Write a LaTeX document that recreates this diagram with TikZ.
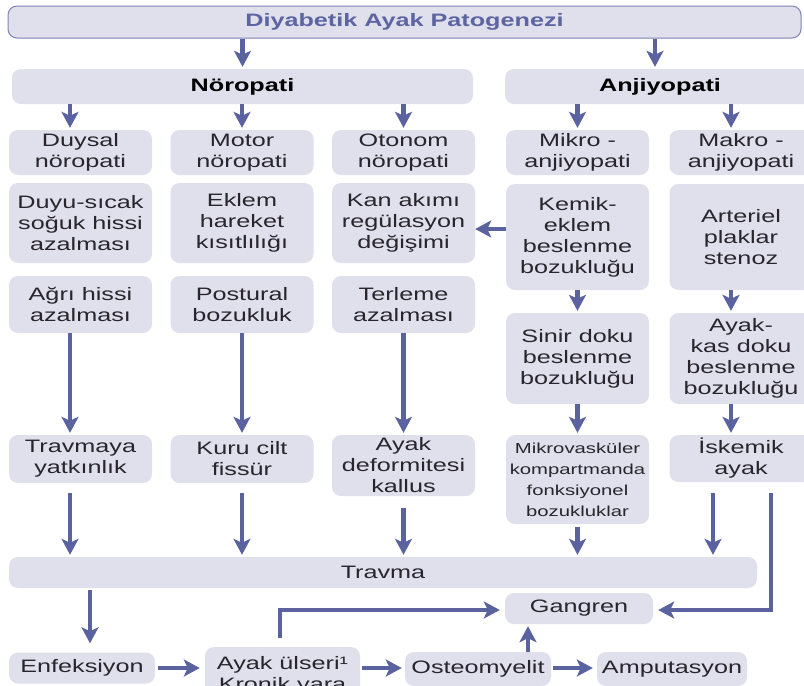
\documentclass[tikz,border=0pt]{standalone}
\usepackage{fontspec}
\setmainfont{Liberation Sans}[FakeStretch=1.4]
\usetikzlibrary{arrows.meta, calc, positioning}
\definecolor{boxfill}{RGB}{224,223,236}
\definecolor{arrowc}{RGB}{90,98,160}
\definecolor{titlec}{RGB}{92,100,162}
\definecolor{textc}{RGB}{40,38,44}

\begin{document}
\begin{tikzpicture}[x=1pt, y=-1pt,
  box/.style={fill=boxfill, rounded corners=9pt, inner sep=0pt, align=center,
    text=textc, font=\fontsize{18}{21}\selectfont},
  colbox/.style={box, minimum width=143pt},
  arr/.style={draw=arrowc, line width=4.5pt,
    -{Stealth[length=16pt,width=17pt,inset=4pt]}},
  gap/.style={shorten >=2pt}]
\useasboundingbox (0,0) rectangle (804,686);

%top
\node[box, draw=titlec!80, line width=1pt, minimum width=793pt, minimum height=32pt,
  text=titlec, font=\fontsize{18}{21}\selectfont\bfseries] (title) at (404.5,22) {Diyabetik Ayak Patogenezi};
\node[box, minimum width=461pt, minimum height=35pt, text=black,
  font=\fontsize{18}{21}\selectfont\bfseries] (noro) at (242.5,86.5) {Nöropati};
\node[box, minimum width=310pt, minimum height=35pt, text=black,
  font=\fontsize{18}{21}\selectfont\bfseries] (anji) at (660,86.5) {Anjiyopati};

%first row
\node[colbox, minimum height=45pt] (duysal) at (80.5,152.5) {Duysal\\nöropati};
\node[colbox, minimum height=45pt] (motor) at (242,152.5) {Motor\\nöropati};
\node[colbox, minimum height=45pt] (otonom) at (403.5,152.5) {Otonom\\nöropati};
\node[colbox, minimum height=45pt] (mikro) at (577.5,152.5) {Mikro -\\anjiyopati};
\node[colbox, minimum height=45pt] (makro) at (741,152.5) {Makro -\\anjiyopati};

%second row
\node[colbox, minimum height=80pt] (duyu) at (80.5,223) {Duyu-sıcak\\soğuk hissi\\azalması};
\node[colbox, minimum height=80pt] (eklem) at (242,223) {Eklem\\hareket\\kısıtlılığı};
\node[colbox, minimum height=80pt] (kanakimi) at (403.5,223) {Kan akımı\\regülasyon\\değişimi};
\node[colbox, minimum height=106pt] (kemik) at (577.5,237) {Kemik-\\eklem\\beslenme\\bozukluğu};
\node[colbox, minimum height=106pt] (arteriel) at (741,237) {Arteriel\\plaklar\\stenoz};

%third row
\node[colbox, minimum height=57pt] (agri) at (80.5,304.5) {Ağrı hissi\\azalması};
\node[colbox, minimum height=57pt] (postural) at (242,304.5) {Postural\\bozukluk};
\node[colbox, minimum height=57pt] (terleme) at (403.5,304.5) {Terleme\\azalması};
\node[colbox, minimum height=91pt] (sinir) at (577.5,358.5) {Sinir doku\\beslenme\\bozukluğu};
\node[colbox, minimum height=91pt] (ayakkas) at (741,358.5) {Ayak-\\kas doku\\beslenme\\bozukluğu};

%fourth row
\node[colbox, minimum height=48pt] (travmaya) at (80.5,459) {Travmaya\\yatkınlık};
\node[colbox, minimum height=48pt] (kuru) at (242,459) {Kuru cilt\\fissür};
\node[colbox, minimum height=61pt] (ayakdef) at (403.5,465.5) {Ayak\\deformitesi\\kallus};
\node[colbox, minimum height=89pt, font=\fontsize{14.5}{21}\selectfont] (mikrovask) at (577.5,479.5)
  {Mikrovasküler\\kompartmanda\\fonksiyonel\\bozukluklar};
\node[colbox, minimum height=47pt] (iskemik) at (741,458.5) {İskemik\\ayak};

%bottom
\node[box, minimum width=748pt, minimum height=31pt] (travma) at (383,572.5) {Travma};
\node[box, minimum width=148pt, minimum height=31pt] (gangren) at (579,608.5) {Gangren};
\node[box, minimum width=146pt, minimum height=31pt] (enf) at (82,668) {Enfeksiyon};
\node[box, minimum width=155pt, minimum height=56pt] (ulser) at (282.5,675) {Ayak ülseri¹\\Kronik yara};
\node[box, minimum width=146pt, minimum height=34pt] (osteo) at (478,669) {Osteomyelit};
\node[box, minimum width=150pt, minimum height=34pt] (amp) at (672,669) {Amputasyon};

\coordinate (xa) at (70,0);
\coordinate (xb) at (731,0);
\coordinate (xc) at (655,0);
\coordinate (xd) at (713,0);
\coordinate (xe) at (771,0);
\coordinate (xf) at (90,0);
\coordinate (xg) at (280,0);
\coordinate (xh) at (528,0);

\draw[arr, gap] (title.south -| noro) -- (noro.north);
\draw[arr, gap] (title.south -| xc) -- (anji.north -| xc);

\draw[arr, gap] (noro.south -| xa) -- (duysal.north -| xa);
\draw[arr, gap] (noro.south -| motor) -- (motor.north);
\draw[arr, gap] (noro.south -| otonom) -- (otonom.north);
\draw[arr, gap] (anji.south -| mikro) -- (mikro.north);
\draw[arr, gap] (anji.south -| xb) -- (makro.north -| xb);

\draw[arr] ([yshift=-6pt]kanakimi.east -| kemik.west) -- ([yshift=-6pt]kanakimi.east);
\draw[arr, gap] (kemik) -- (sinir);
\draw[arr, gap] (arteriel.south -| xb) -- (ayakkas.north -| xb);

\draw[arr, gap] (agri.south -| xa) -- (travmaya.north -| xa);
\draw[arr, gap] (postural) -- (kuru);
\draw[arr, gap] (terleme) -- (ayakdef);
\draw[arr, gap] (sinir) -- (mikrovask);
\draw[arr, gap] (ayakkas.south -| xb) -- (iskemik.north -| xb);

\draw[arr, gap, shorten <=10pt] (travmaya.south -| xa) -- (travma.north -| xa);
\draw[arr, gap, shorten <=10pt] (kuru) -- (travma.north -| kuru);
\draw[arr, gap, shorten <=12pt] (ayakdef) -- (travma.north -| ayakdef);
\draw[arr, gap, shorten <=3pt] (mikrovask) -- (travma.north -| mikrovask);
\draw[arr, gap, shorten <=11pt] (iskemik.south -| xd) -- (travma.north -| xd);

\draw[arr, shorten <=11pt, shorten >=5pt] (iskemik.south -| xe) |- ([yshift=-1.5pt]gangren.east);
\draw[arr, shorten <=2pt, shorten >=9pt] (travma.south -| xf) -- (enf.north -| xf);
\draw[arr, shorten <=9pt, shorten >=5pt] (ulser.north -| xg) |- ([yshift=-1.5pt]gangren.west);

\draw[arr, shorten <=3pt, shorten >=5pt] (enf.east) -- (ulser.west |- enf.east);
\draw[arr, shorten <=2pt, shorten >=3pt] (ulser.east |- enf.east) -- (osteo.west |- enf.east);
\draw[arr, shorten <=2pt, shorten >=4pt] (osteo.east |- enf.east) -- (amp.west |- enf.east);
\draw[arr, gap] (osteo.north -| xh) -- (gangren.south -| xh);
\end{tikzpicture}
\end{document}
